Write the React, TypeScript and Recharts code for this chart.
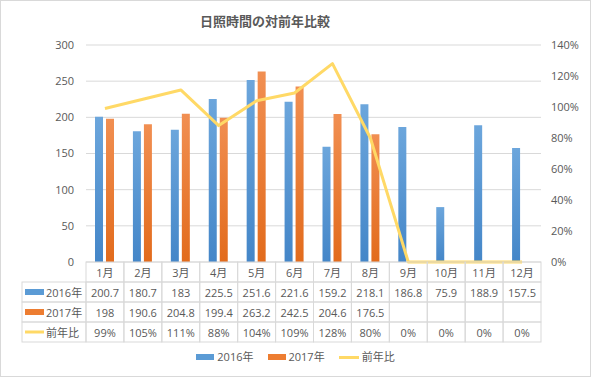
import React from 'react';
import { ComposedChart, Bar, Line, XAxis, YAxis, CartesianGrid } from 'recharts';

const months = ['1月', '2月', '3月', '4月', '5月', '6月', '7月', '8月', '9月', '10月', '11月', '12月'];
const sun2016 = [200.7, 180.7, 183, 225.5, 251.6, 221.6, 159.2, 218.1, 186.8, 75.9, 188.9, 157.5];
const sun2017: (number | null)[] = [198, 190.6, 204.8, 199.4, 263.2, 242.5, 204.6, 176.5, null, null, null, null];
const ratioPct = [99, 105, 111, 88, 104, 109, 128, 80, 0, 0, 0, 0];
const leftTicks = [0, 50, 100, 150, 200, 250, 300];
const rightTicks = [0, 20, 40, 60, 80, 100, 120, 140];
const title = '日照時間の対前年比較';

const seriesMeta = [
  { key: 'y2016', name: '2016年', color: '#5B9BD5', kind: 'bar' },
  { key: 'y2017', name: '2017年', color: '#ED7D31', kind: 'bar' },
  { key: 'ratio', name: '前年比', color: '#FFD966', kind: 'line' },
];

const data = months.map((m, i) => ({
  month: m,
  y2016: sun2016[i],
  y2017: sun2017[i],
  ratio: ratioPct[i],
}));

const W = 591;
const H = 377;
const PLOT_LEFT = 86;
const PLOT_RIGHT = 541;
const PLOT_TOP = 45;
const PLOT_BOTTOM = 262;
const COL_W = (PLOT_RIGHT - PLOT_LEFT) / months.length;
const ROW_H = 20;
const LABEL_LEFT = 22;
const GRID = '#D9D9D9';
const TEXT = '#595959';
const FONT = "'Open Sans', 'Noto Sans CJK JP', sans-serif";

const fmtNum = (v: number | null) => (v === null || v === undefined ? '' : String(v));

function TableTick(props: any) {
  const { x, y, payload } = props;
  let i = typeof props.index === 'number' ? props.index : months.indexOf(payload.value);
  if (i < 0) i = months.indexOf(payload.value);
  const left = x - COL_W / 2;
  const cells = [months[i], fmtNum(sun2016[i]), fmtNum(sun2017[i]), ratioPct[i] + '%'];
  return (
    <g>
      {cells.map((t, r) => (
        <g key={r}>
          <rect x={left} y={y + r * ROW_H} width={COL_W} height={ROW_H} fill="none" stroke={GRID} strokeWidth={1} />
          <text
            x={x}
            y={y + r * ROW_H + ROW_H / 2}
            textAnchor="middle"
            dominantBaseline="central"
            fontSize={11}
            fill={TEXT}
            fontFamily={FONT}
          >
            {t}
          </text>
        </g>
      ))}
      {i === 0 &&
        seriesMeta.map((s, k) => {
          const ry = y + (k + 1) * ROW_H;
          const cy = ry + ROW_H / 2;
          return (
            <g key={s.key}>
              <rect x={LABEL_LEFT} y={ry} width={left - LABEL_LEFT} height={ROW_H} fill="none" stroke={GRID} strokeWidth={1} />
              {s.kind === 'bar' ? (
                <rect x={LABEL_LEFT + 3} y={cy - 3} width={19} height={6} fill={s.color} />
              ) : (
                <line x1={LABEL_LEFT + 3} x2={LABEL_LEFT + 22} y1={cy} y2={cy} stroke={s.color} strokeWidth={3} />
              )}
              <text x={LABEL_LEFT + 24} y={cy} dominantBaseline="central" fontSize={11} fill={TEXT} fontFamily={FONT}>
                {s.name}
              </text>
            </g>
          );
        })}
    </g>
  );
}

export default function App() {
  return (
    <div style={{ position: 'absolute', left: 0, top: 0, width: W, height: H, background: '#fff', fontFamily: FONT }}>
      <ComposedChart
        width={W}
        height={H}
        data={data}
        margin={{ top: PLOT_TOP, right: 0, left: 0, bottom: 0 }}
        barGap={3}
      >
        <defs>
          <linearGradient id="gBlue" x1="0" y1="0" x2="0" y2="1">
            <stop offset="0%" stopColor="#6CA6DC" />
            <stop offset="100%" stopColor="#4486C8" />
          </linearGradient>
          <linearGradient id="gOrange" x1="0" y1="0" x2="0" y2="1">
            <stop offset="0%" stopColor="#F18F52" />
            <stop offset="100%" stopColor="#E26B1C" />
          </linearGradient>
        </defs>
        <CartesianGrid vertical={false} stroke={GRID} yAxisId="left" />
        <XAxis
          dataKey="month"
          height={H - PLOT_BOTTOM}
          axisLine={false}
          tickLine={false}
          tickSize={0}
          tickMargin={0}
          interval={0}
          tick={<TableTick />}
        />
        <YAxis
          yAxisId="left"
          orientation="left"
          width={PLOT_LEFT}
          domain={[0, 300]}
          ticks={leftTicks}
          axisLine={false}
          tickLine={false}
          tickSize={0}
          tickMargin={12}
          tick={{ fontSize: 11, fill: TEXT, fontFamily: FONT }}
        />
        <YAxis
          yAxisId="right"
          orientation="right"
          width={W - PLOT_RIGHT}
          domain={[0, 140]}
          ticks={rightTicks}
          axisLine={false}
          tickLine={false}
          tickSize={0}
          tickMargin={10}
          tickFormatter={(v: number) => v + '%'}
          tick={{ fontSize: 11, fill: TEXT, fontFamily: FONT }}
        />
        <Bar yAxisId="left" dataKey="y2016" name="2016年" fill="url(#gBlue)" barSize={8} isAnimationActive={false} />
        <Bar yAxisId="left" dataKey="y2017" name="2017年" fill="url(#gOrange)" barSize={8} isAnimationActive={false} />
        <Line
          yAxisId="right"
          type="linear"
          dataKey="ratio"
          name="前年比"
          stroke="#FFD966"
          strokeWidth={3}
          dot={false}
          activeDot={false}
          strokeLinejoin="round"
          isAnimationActive={false}
        />
      </ComposedChart>
      <div
        style={{
          position: 'absolute',
          left: 200,
          top: 13,
          width: 122,
          textAlign: 'center',
          fontSize: 13,
          fontWeight: 'bold',
          color: TEXT,
          lineHeight: '16px',
          whiteSpace: 'nowrap',
          fontFamily: "'Noto Sans CJK JP', sans-serif",
        }}
      >
        {title}
      </div>
      <div
        style={{
          position: 'absolute',
          left: 0,
          top: 349,
          width: W,
          display: 'flex',
          justifyContent: 'center',
          alignItems: 'center',
          gap: 14,
          fontSize: 11,
          color: TEXT,
          lineHeight: '16px',
        }}
      >
        {seriesMeta.map((s) => (
          <div key={s.key} style={{ display: 'flex', alignItems: 'center', gap: 3 }}>
            {s.kind === 'bar' ? (
              <div style={{ width: 18, height: 6, background: s.color }} />
            ) : (
              <div style={{ width: 20, height: 3, background: s.color }} />
            )}
            <span>{s.name}</span>
          </div>
        ))}
      </div>
      <div
        style={{
          position: 'absolute',
          left: 0,
          top: 0,
          width: W,
          height: H,
          boxSizing: 'border-box',
          border: '1px solid #D9D9D9',
          pointerEvents: 'none',
        }}
      />
    </div>
  );
}
